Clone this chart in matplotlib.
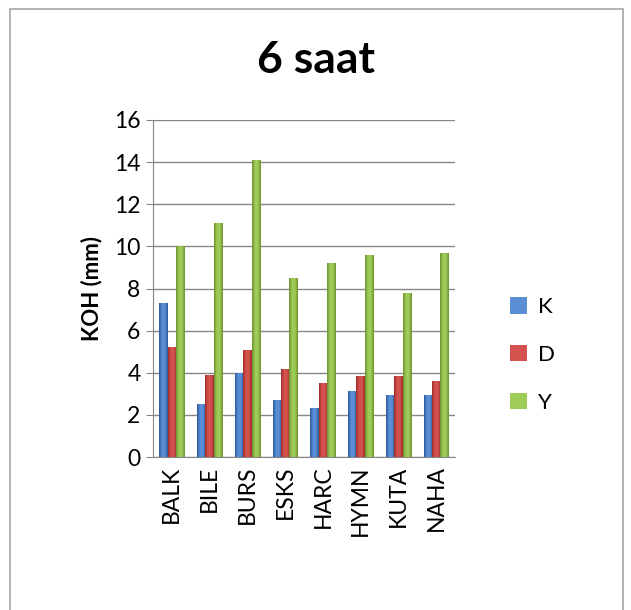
import numpy as np
import matplotlib
matplotlib.use("Agg")
import matplotlib.pyplot as plt
from matplotlib.colors import LinearSegmentedColormap
from matplotlib.patches import Rectangle

plt.rcParams['font.family'] = ['Lato', 'DejaVu Sans']

categories = ["BALK", "BILE", "BURS", "ESKS", "HARC", "HYMN", "KUTA", "NAHA"]
series_names = ["K", "D", "Y"]
k_values = [7.3, 2.5, 4.0, 2.7, 2.35, 3.15, 2.95, 2.95]
d_values = [5.2, 3.9, 5.1, 4.2, 3.5, 3.85, 3.85, 3.6]
y_values = [10.0, 11.1, 14.1, 8.5, 9.2, 9.6, 7.8, 9.7]
yticks = [0, 2, 4, 6, 8, 10, 12, 14, 16]

# (edge, centre) shades for the cylindrical-looking fill
shades = [("#2c5596", "#5a8fd6"), ("#9c2a27", "#d4524e"), ("#6a8f2e", "#9fcb57")]

fig = plt.figure(figsize=(6.31, 6.10), dpi=100)
fig.patch.set_facecolor("white")

# chart area frame
fig.add_artist(Rectangle((10 / 631, -0.01), 613 / 631, 1 - 9 / 610 + 0.01,
                         transform=fig.transFigure, fill=False,
                         edgecolor="#a6a6a6", linewidth=1.2))

ax = fig.add_axes([153 / 631, 1 - 457 / 610, 302 / 631, 337 / 610])
ax.set_facecolor("white")

x = np.arange(len(categories))
width = 0.222
series = [k_values, d_values, y_values]
handles = []
for i, (vals, name, (edge, mid)) in enumerate(zip(series, series_names, shades)):
    bars = ax.bar(x + (i - 1) * width, vals, width=width, color=mid,
                  edgecolor="none", zorder=3, label=name)
    cmap = LinearSegmentedColormap.from_list(name, [edge, mid, mid, edge])
    grad = np.linspace(0, 1, 64).reshape(1, -1)
    for b in bars:
        bx, by = b.get_x(), b.get_y()
        bw, bh = b.get_width(), b.get_height()
        im = ax.imshow(grad, cmap=cmap, aspect="auto", zorder=3.5,
                       extent=(bx, bx + bw, by, by + bh), interpolation="bicubic")
        im.set_clip_path(b)
    handles.append(bars)

ax.set_xlim(-0.5, len(categories) - 0.5)
ax.set_ylim(0, 16)
ax.set_yticks(yticks)
ax.set_yticklabels([str(t) for t in yticks], fontsize=16.5)
ax.set_xticks(x)
ax.set_xticklabels(categories, rotation=90, fontsize=16.5)
ax.tick_params(axis="x", length=0, pad=6)
ax.tick_params(axis="y", length=5, color="#868686", pad=4)
ax.yaxis.grid(True, color="#868686", linewidth=1.0, zorder=0)
ax.set_axisbelow(True)
for s in ["top", "right"]:
    ax.spines[s].set_visible(False)
ax.spines["left"].set_color("#868686")
ax.spines["bottom"].set_color("#868686")

ax.set_ylabel("KOH (mm)", fontsize=16, fontweight="bold", labelpad=8)
fig.text(316 / 631, 1 - 60 / 610, "6 saat", ha="center", va="center",
         fontsize=32, fontweight="bold")

leg = fig.legend(handles=handles, labels=series_names, loc="center left",
                 bbox_to_anchor=(490 / 631, 1 - 355 / 610), frameon=False,
                 fontsize=16, handlelength=0.75, handleheight=0.75,
                 labelspacing=1.25, handletextpad=0.5)

fig.savefig("out.png", dpi=100, facecolor="white")
